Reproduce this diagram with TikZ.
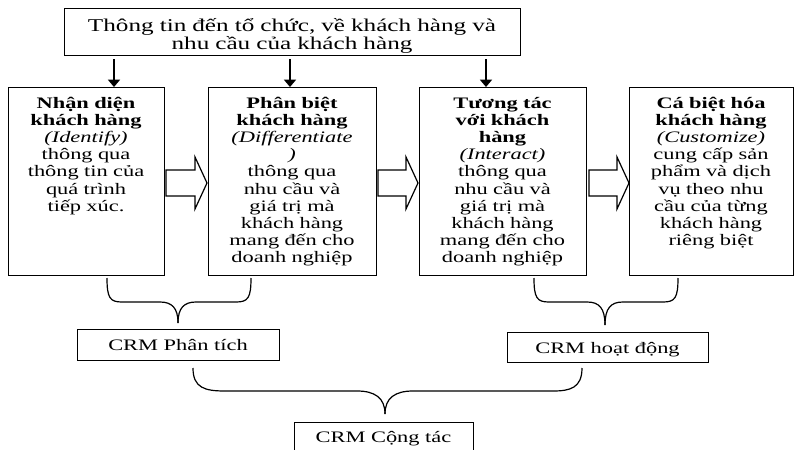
\documentclass[tikz,border=0pt]{standalone}
\usepackage{fontspec}
\setmainfont[FakeStretch=1.4]{Liberation Serif}
\usetikzlibrary{arrows.meta}
\begin{document}
\begin{tikzpicture}[x=0.75pt,y=-0.75pt,
  box/.style={draw, line width=0.9pt, inner sep=0pt, anchor=north west},
  boxtext/.style={anchor=base, align=center, inner sep=0pt, font=\fontsize{12}{12.9}\selectfont},
  toptext/.style={anchor=base, align=center, inner sep=0pt, font=\fontsize{13.5}{13.5}\selectfont},
  crmtext/.style={anchor=base, inner sep=0pt, font=\fontsize{12}{12.9}\selectfont},
  downarrow/.style={line width=1.2pt, -{Triangle[width=9pt,length=5.5pt]}},
  blockarrow/.style={draw, line width=0.9pt, fill=white, line join=miter},
  bracepath/.style={draw, line width=0.9pt}]
\clip (0,0) rectangle (794,450);

% top box
\node[box, minimum width=342pt, minimum height=35.25pt] (top) at (64,8) {};
\node[toptext, text width=342pt] (toptx) at (292,31) {Thông tin đến tổ chức, về khách hàng và\\nhu cầu của khách hàng};

% four boxes
\node[box, minimum width=117pt, minimum height=141pt] (b1) at (8,87) {};
\node[box, minimum width=126pt, minimum height=141pt] (b2) at (208,87) {};
\node[box, minimum width=125.25pt, minimum height=141pt] (b3) at (419,87) {};
\node[box, minimum width=123pt, minimum height=141pt] (b4) at (629,87) {};

\node[boxtext, text width=117pt] (t1) at (86,108) {\textbf{Nhận diện}\\\textbf{khách hàng}\\\textit{(Identify)}\\thông qua\\thông tin của\\quá trình\\tiếp xúc.};
\node[boxtext, text width=126pt] (t2) at (292,108) {\textbf{Phân biệt}\\\textbf{khách hàng}\\\textit{(Differentiate}\\\textit{)}\\thông qua\\nhu cầu và\\giá trị mà\\khách hàng\\mang đến cho\\doanh nghiệp};
\node[boxtext, text width=125pt] (t3) at (502.5,108) {\textbf{Tương tác}\\\textbf{với khách}\\\textbf{hàng}\\\textit{(Interact)}\\thông qua\\nhu cầu và\\giá trị mà\\khách hàng\\mang đến cho\\doanh nghiệp};
\node[boxtext, text width=123pt] (t4) at (711,108) {\textbf{Cá biệt hóa}\\\textbf{khách hàng}\\\textit{(Customize)}\\cung cấp sản\\phẩm và dịch\\vụ theo nhu\\cầu của từng\\khách hàng\\riêng biệt};

% down arrows
\coordinate (a1) at (114,59);
\coordinate (a2) at (290,59);
\coordinate (a3) at (486,59);
\draw[downarrow] (a1) -- (a1 |- b1.north);
\draw[downarrow] (a2) -- (a2 |- b2.north);
\draw[downarrow] (a3) -- (a3 |- b3.north);

% block arrows
\path[blockarrow] (166,170) -- (195,170) -- (195,157) -- (207,183) -- (195,209) -- (195,196) -- (166,196) -- cycle;
\path[blockarrow] (378,170) -- (406,170) -- (406,157) -- (418,183) -- (406,209) -- (406,196) -- (378,196) -- cycle;
\path[blockarrow] (589,170) -- (617,170) -- (617,157) -- (629,183) -- (617,209) -- (617,196) -- (589,196) -- cycle;

% CRM boxes
\node[box, minimum width=151.5pt, minimum height=23.25pt] (p1) at (77,329) {};
\node[crmtext] (p1t) at (178,350) {CRM Phân tích};
\node[box, minimum width=150.75pt, minimum height=22.5pt] (p2) at (507,332) {};
\node[crmtext] (p2t) at (607.5,353) {CRM hoạt động};
\node[box, minimum width=134.25pt, minimum height=28.5pt] (p3) at (294,422) {};
\node[crmtext] (p3t) at (383.5,442) {CRM Cộng tác};

% braces
\coordinate (br1L) at (107,278);
\coordinate (br1R) at (251,278);
\coordinate (br1T) at (178,323);
\path[bracepath] (br1L) .. controls (107,298) and (110,302) .. (122,302) -- (160,302) .. controls (172,302) and (178,308) .. (br1T);
\path[bracepath] (br1R) .. controls (251,298) and (248,302) .. (236,302) -- (196,302) .. controls (184,302) and (178,308) .. (br1T);

\coordinate (br2L) at (534,278);
\coordinate (br2R) at (678,278);
\coordinate (br2T) at (605,325);
\path[bracepath] (br2L) .. controls (534,298) and (537,302) .. (549,302) -- (587,302) .. controls (599,302) and (605,308) .. (br2T);
\path[bracepath] (br2R) .. controls (678,298) and (675,302) .. (663,302) -- (623,302) .. controls (611,302) and (605,308) .. (br2T);

\coordinate (br3L) at (193,368);
\coordinate (br3R) at (582,368);
\coordinate (br3T) at (385,414);
\path[bracepath] (br3L) .. controls (193,388) and (205,391) .. (225,391) -- (357,391) .. controls (375,391) and (385,398) .. (br3T);
\path[bracepath] (br3R) .. controls (582,388) and (570,391) .. (553,391) -- (413,391) .. controls (395,391) and (385,398) .. (br3T);
\end{tikzpicture}
\end{document}
